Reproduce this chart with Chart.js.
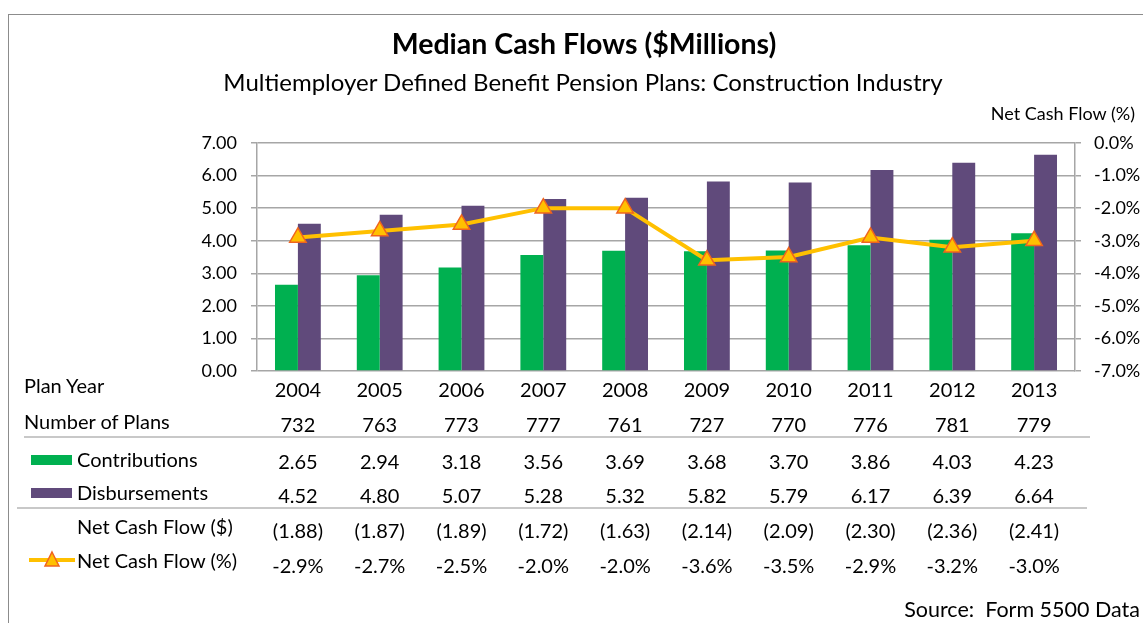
<!DOCTYPE html>
<html>
<head>
<meta charset="utf-8">
<script src="https://cdn.jsdelivr.net/npm/chart.js@4.4.0/dist/chart.umd.min.js"></script>
<style>
  body { margin: 0; background: #fff; font-family: Lato, "Open Sans", sans-serif; }
  #wrap { position: relative; width: 1143px; height: 623px; overflow: hidden; }
  #chart { position: absolute; left: 0; top: 0; }
  .frame { position: absolute; left: 8px; top: 14px; width: 1300px; height: 800px; border: 1.5px solid #8c8c8c; }
  .t { position: absolute; white-space: nowrap; color: #000; line-height: 1; transform: translateY(-50%); }
  .c { transform: translate(-50%, -50%); }
  .title { font-size: 28.5px; font-weight: bold; left: 584px; top: 43px; }
  .sub { font-size: 24px; left: 583px; top: 82px; }
  .cell { font-size: 20px; }
  .rule { position: absolute; height: 0; border-top: 2px solid #c8c8c8; }
  .sw { position: absolute; width: 41px; height: 10px; }
</style>
</head>
<body>
<div id="wrap">
  <div class="frame"></div>
  <canvas id="chart" width="1143" height="623"></canvas>
  <div class="t c title">Median Cash Flows ($Millions)</div>
  <div class="t c sub">Multiemployer Defined Benefit Pension Plans: Construction Industry</div>
  <div class="t" style="right:8px;top:113px;font-size:18px;">Net Cash Flow (%)</div>
  <div class="t" style="right:3px;top:610px;font-size:21.5px;">Source:&nbsp; Form 5500 Data</div>
  <div class="rule" style="left:24px;top:436px;width:1066px;"></div>
  <div class="rule" style="left:17px;top:507px;width:1070px;"></div>
</div>
<script>
// table / chart values
const years = ["2004", "2005", "2006", "2007", "2008", "2009", "2010", "2011", "2012", "2013"];
const numPlans = [732, 763, 773, 777, 761, 727, 770, 776, 781, 779];
const contributions = [2.65, 2.94, 3.18, 3.56, 3.69, 3.68, 3.70, 3.86, 4.03, 4.23];
const disbursements = [4.52, 4.80, 5.07, 5.28, 5.32, 5.82, 5.79, 6.17, 6.39, 6.64];
const netCashDollars = [-1.88, -1.87, -1.89, -1.72, -1.63, -2.14, -2.09, -2.30, -2.36, -2.41];
const netCashPct = [-2.9, -2.7, -2.5, -2.0, -2.0, -3.6, -3.5, -2.9, -3.2, -3.0];

const GREEN = "#00b050";
const PURPLE = "#604a7b";
const GOLD = "#ffc000";
const ORANGE = "#f0641e";
const GRID = "#a6a6a6";

const wrap = document.getElementById("wrap");

function addText(txt, cls, style) {
  const d = document.createElement("div");
  d.className = "t cell " + cls;
  d.textContent = txt;
  Object.assign(d.style, style);
  wrap.appendChild(d);
  return d;
}

const fmtParen = (v) => (v < 0 ? "(" + Math.abs(v).toFixed(2) + ")" : v.toFixed(2));
const fmtPct = (v) => v.toFixed(1) + "%";

// rows of the data table under the plot: label, label y, value y, values
const tableRows = [
  { label: "Plan Year", lx: 24, ly: 385, vy: 389, values: years },
  { label: "Number of Plans", lx: 24, ly: 421, vy: 424, values: numPlans.map(String) },
  { label: "Contributions", lx: 77, ly: 459, vy: 461, values: contributions.map((v) => v.toFixed(2)) },
  { label: "Disbursements", lx: 77, ly: 492, vy: 495, values: disbursements.map((v) => v.toFixed(2)) },
  { label: "Net Cash Flow ($)", lx: 77, ly: 526, vy: 530, values: netCashDollars.map(fmtParen) },
  { label: "Net Cash Flow (%)", lx: 77, ly: 560, vy: 565, values: netCashPct.map(fmtPct) },
];

let tableBuilt = false;
const tablePlugin = {
  id: "dataTable",
  afterRender(chart) {
    if (tableBuilt) return;
    tableBuilt = true;
    const xs = chart.scales.x;
    tableRows.forEach((row) => {
      addText(row.label, "", { left: row.lx + "px", top: row.ly + "px" });
      row.values.forEach((v, i) => {
        addText(v, "c", { left: xs.getPixelForValue(i) + "px", top: row.vy + "px" });
      });
    });
    // legend keys
    const g = document.createElement("div");
    g.className = "sw";
    Object.assign(g.style, { left: "31px", top: "455px", background: GREEN });
    wrap.appendChild(g);
    const p = document.createElement("div");
    p.className = "sw";
    Object.assign(p.style, { left: "31px", top: "488px", background: PURPLE });
    wrap.appendChild(p);
    const key = document.createElementNS("http://www.w3.org/2000/svg", "svg");
    key.setAttribute("width", "48");
    key.setAttribute("height", "20");
    key.style.position = "absolute";
    key.style.left = "28px";
    key.style.top = "550px";
    key.innerHTML =
      '<line x1="1" y1="10" x2="47" y2="10" stroke="' + GOLD + '" stroke-width="4"/>' +
      '<polygon points="24,2 31,16 17,16" fill="' + GOLD + '" stroke="' + ORANGE + '" stroke-width="1.5"/>';
    wrap.appendChild(key);
  },
};

const ctx = document.getElementById("chart").getContext("2d");

new Chart(ctx, {
  type: "bar",
  data: {
    labels: years,
    datasets: [
      {
        label: "Net Cash Flow (%)",
        type: "line",
        data: netCashPct,
        yAxisID: "y1",
        borderColor: GOLD,
        borderWidth: 4,
        pointStyle: "triangle",
        pointRadius: 9.5,
        pointBackgroundColor: GOLD,
        pointBorderColor: ORANGE,
        pointBorderWidth: 1.5,
        tension: 0,
        order: 0,
      },
      {
        label: "Contributions",
        data: contributions,
        backgroundColor: GREEN,
        yAxisID: "y",
        categoryPercentage: 0.56,
        barPercentage: 1.0,
        order: 1,
      },
      {
        label: "Disbursements",
        data: disbursements,
        backgroundColor: PURPLE,
        yAxisID: "y",
        categoryPercentage: 0.56,
        barPercentage: 1.0,
        order: 2,
      },
    ],
  },
  options: {
    responsive: false,
    animation: false,
    layout: { padding: { top: 143, bottom: 252, left: 0, right: 0 } },
    plugins: { legend: { display: false }, tooltip: { enabled: false } },
    scales: {
      x: { display: false },
      y: {
        position: "left",
        min: 0,
        max: 7,
        afterFit: (s) => { s.width = 257; },
        ticks: {
          stepSize: 1,
          padding: 14,
          color: "#000",
          font: { family: "Lato", size: 18 },
          callback: (v) => Number(v).toFixed(2),
        },
        grid: { color: GRID, lineWidth: 1.5, tickLength: 6 },
        border: { color: GRID, width: 1.5 },
      },
      y1: {
        position: "right",
        min: -7,
        max: 0,
        afterFit: (s) => { s.width = 68; },
        ticks: {
          stepSize: 1,
          padding: 13,
          color: "#000",
          font: { family: "Lato", size: 18 },
          callback: (v) => Number(v).toFixed(1) + "%",
        },
        grid: { drawOnChartArea: false, color: GRID, lineWidth: 1.5, tickLength: 6 },
        border: { color: GRID, width: 1.5 },
      },
    },
  },
  plugins: [tablePlugin],
});
</script>
</body>
</html>
